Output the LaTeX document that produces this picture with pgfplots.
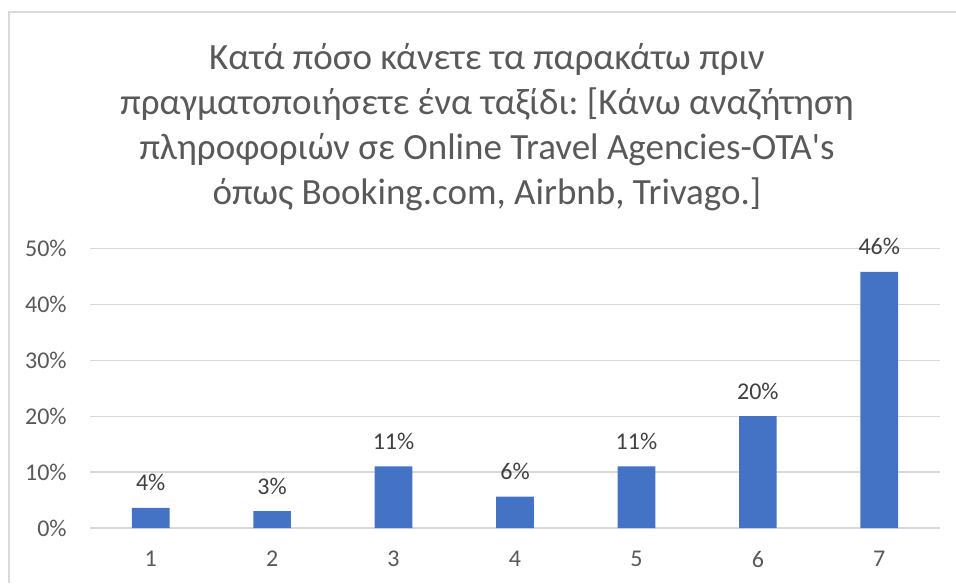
\documentclass[border=0pt]{standalone}
\usepackage{fontspec}
\setmainfont{Carlito}
\usepackage{pgfplots}
\pgfplotsset{compat=1.18}
\definecolor{barblue}{HTML}{4472C4}
\definecolor{gridgray}{HTML}{D9D9D9}
\definecolor{txtgray}{HTML}{595959}
\definecolor{lblgray}{HTML}{404040}
\frenchspacing
\begin{document}
\begin{tikzpicture}
% 1px of the reference = 0.5pt
\useasboundingbox (0,0) rectangle (478pt,291.5pt);
\draw[gridgray, line width=0.6pt] (4.5pt,0pt) -- (4.5pt,285.5pt) -- (478pt,285.5pt);
\node[text=txtgray, font=\fontsize{18.5}{22.5}\selectfont, align=center] at (243.5pt,228pt)
  {Κατά πόσο κάνετε τα παρακάτω πριν\\
   πραγματοποιήσετε ένα ταξίδι: [Κάνω αναζήτηση\\
   πληροφοριών σε Online Travel Agencies-OTA\textquotesingle s\\
   όπως Booking.com, Airbnb, Trivago.]};
\begin{axis}[
    at={(45pt,27.5pt)}, anchor=south west,
    scale only axis, width=425pt, height=139.85pt,
    xmin=0.5, xmax=7.5, ymin=0, ymax=50,
    axis line style={draw=none},
    major tick length=0pt,
    ymajorgrids,
    grid style={gridgray, line width=0.6pt},
    xtick={1,2,3,4,5,6,7},
    ytick={0,10,20,30,40,50},
    yticklabels={0\%,10\%,20\%,30\%,40\%,50\%},
    tick label style={font=\fontsize{12}{14}\selectfont, text=txtgray},
    yticklabel style={anchor=east, inner sep=0pt, xshift=-11.5pt},
    xticklabel style={anchor=north, inner sep=0pt, yshift=-11.5pt},
    /pgf/number format/assume math mode=true,
    clip=false,
]
\addplot[ybar, fill=barblue, draw=none, bar width=18.85pt,
    nodes near coords, point meta=explicit symbolic,
    every node near coord/.append style={font=\fontsize{12}{14}\selectfont,
        text=lblgray, anchor=base, inner sep=0pt, yshift=8.5pt}]
  coordinates {
    (1,3.6) [4\%]
    (2,3.0) [3\%]
    (3,11.0) [11\%]
    (4,5.6) [6\%]
    (5,11.0) [11\%]
    (6,20.0) [20\%]
    (7,45.8) [46\%]
  };
\end{axis}
\end{tikzpicture}
\end{document}
